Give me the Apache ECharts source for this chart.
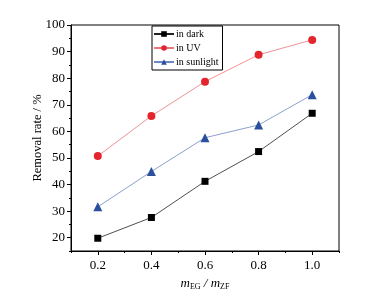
<!DOCTYPE html>
<html>
<head>
<meta charset="utf-8">
<script src="https://cdn.jsdelivr.net/npm/echarts@6/dist/echarts.min.js"></script>
<style>
html, body { margin: 0; padding: 0; background: #fff; }
#chart { width: 371px; height: 302px; }
</style>
</head>
<body>
<div id="chart"></div>
<script>
var ratios = [0.2, 0.4, 0.6, 0.8, 1.0];
var darkRates = [19.8, 27.6, 41.2, 52.4, 66.8];
var uvRates = [50.7, 65.8, 78.7, 88.8, 94.4];
var sunRates = [31.6, 44.9, 57.6, 62.4, 73.8];
var xTicks = [0.2, 0.4, 0.6, 0.8, 1.0];
var xMinorTicks = [0.1, 0.3, 0.5, 0.7, 0.9, 1.1];
var yTicks = [20, 30, 40, 50, 60, 70, 80, 90, 100];
var yMinorTicks = [15, 25, 35, 45, 55, 65, 75, 85, 95];

var font = '"Liberation Serif", "Times New Roman", serif';

function pairs(vals) {
    var out = [];
    for (var i = 0; i < ratios.length; i++) {
        out.push([ratios[i], vals[i]]);
    }
    return out;
}

var myChart = echarts.init(document.getElementById('chart'));
var option = {
    backgroundColor: '#fff',
    animation: false,
    textStyle: { fontFamily: font },
    grid: {
        left: 71, right: 32, top: 25, bottom: 51,
        show: true, borderColor: '#000', borderWidth: 1,
        backgroundColor: 'transparent'
    },
    legend: {
        orient: 'vertical',
        left: 152, top: 26,
        padding: [3, 4, 3, 1],
        itemGap: 4,
        itemWidth: 20, itemHeight: 7,
        borderColor: '#000', borderWidth: 1,
        textStyle: { fontFamily: font, fontSize: 10, color: '#000', padding: [0, 0, 0, -3] },
        data: ['in dark', 'in UV', 'in sunlight']
    },
    xAxis: [
        {
            type: 'value', min: 0.1, max: 1.1,
            axisLine: { lineStyle: { color: '#000', width: 1 } },
            axisTick: { customValues: xTicks, length: 4, lineStyle: { color: '#000' } },
            axisLabel: {
                customValues: xTicks, color: '#000', fontSize: 13, margin: 8,
                fontFamily: font,
                formatter: function (v) { return v.toFixed(1); }
            },
            splitLine: { show: false },
            name: '{m|m}{s|EG}{m| / m}{s|ZF}',
            nameLocation: 'middle', nameGap: 26, nameMoveOverlap: false,
            nameTextStyle: {
                rich: {
                    m: { fontFamily: font, fontStyle: 'italic', fontSize: 13, color: '#000' },
                    s: { fontFamily: font, fontSize: 8, color: '#000', verticalAlign: 'bottom', padding: [6, 0, 0, 0] }
                }
            }
        },
        {
            type: 'value', min: 0.1, max: 1.1, position: 'bottom',
            axisLine: { show: false },
            axisTick: { customValues: xMinorTicks, length: 2, lineStyle: { color: '#000' } },
            axisLabel: { show: false },
            splitLine: { show: false }
        }
    ],
    yAxis: [
        {
            type: 'value', min: 15, max: 100,
            axisLine: { show: true, lineStyle: { color: '#000', width: 1 } },
            axisTick: { show: true, customValues: yTicks, length: 4, lineStyle: { color: '#000' } },
            axisLabel: { customValues: yTicks, color: '#000', fontSize: 13, margin: 6, fontFamily: font },
            splitLine: { show: false },
            name: 'Removal rate / %',
            nameLocation: 'middle', nameGap: 27, nameRotate: 90, nameMoveOverlap: false,
            nameTextStyle: { fontFamily: font, fontSize: 12.5, color: '#000' }
        },
        {
            type: 'value', min: 15, max: 100, position: 'left',
            axisLine: { show: false },
            axisTick: { show: true, customValues: yMinorTicks, length: 2, lineStyle: { color: '#000' } },
            axisLabel: { show: false },
            splitLine: { show: false }
        }
    ],
    series: [
        {
            name: 'in dark', type: 'line', data: pairs(darkRates),
            symbol: 'rect', symbolSize: 7,
            itemStyle: { color: '#000' },
            lineStyle: { color: '#222', width: 0.8 }
        },
        {
            name: 'in UV', type: 'line', data: pairs(uvRates),
            symbol: 'circle', symbolSize: 8,
            itemStyle: { color: '#e3262e' },
            lineStyle: { color: '#e8767a', width: 0.8 }
        },
        {
            name: 'in sunlight', type: 'line', data: pairs(sunRates),
            symbol: 'triangle', symbolSize: 9,
            itemStyle: { color: '#2a4f9c' },
            lineStyle: { color: '#6f88c2', width: 0.8 }
        }
    ]
};
myChart.setOption(option);
</script>
</body>
</html>
